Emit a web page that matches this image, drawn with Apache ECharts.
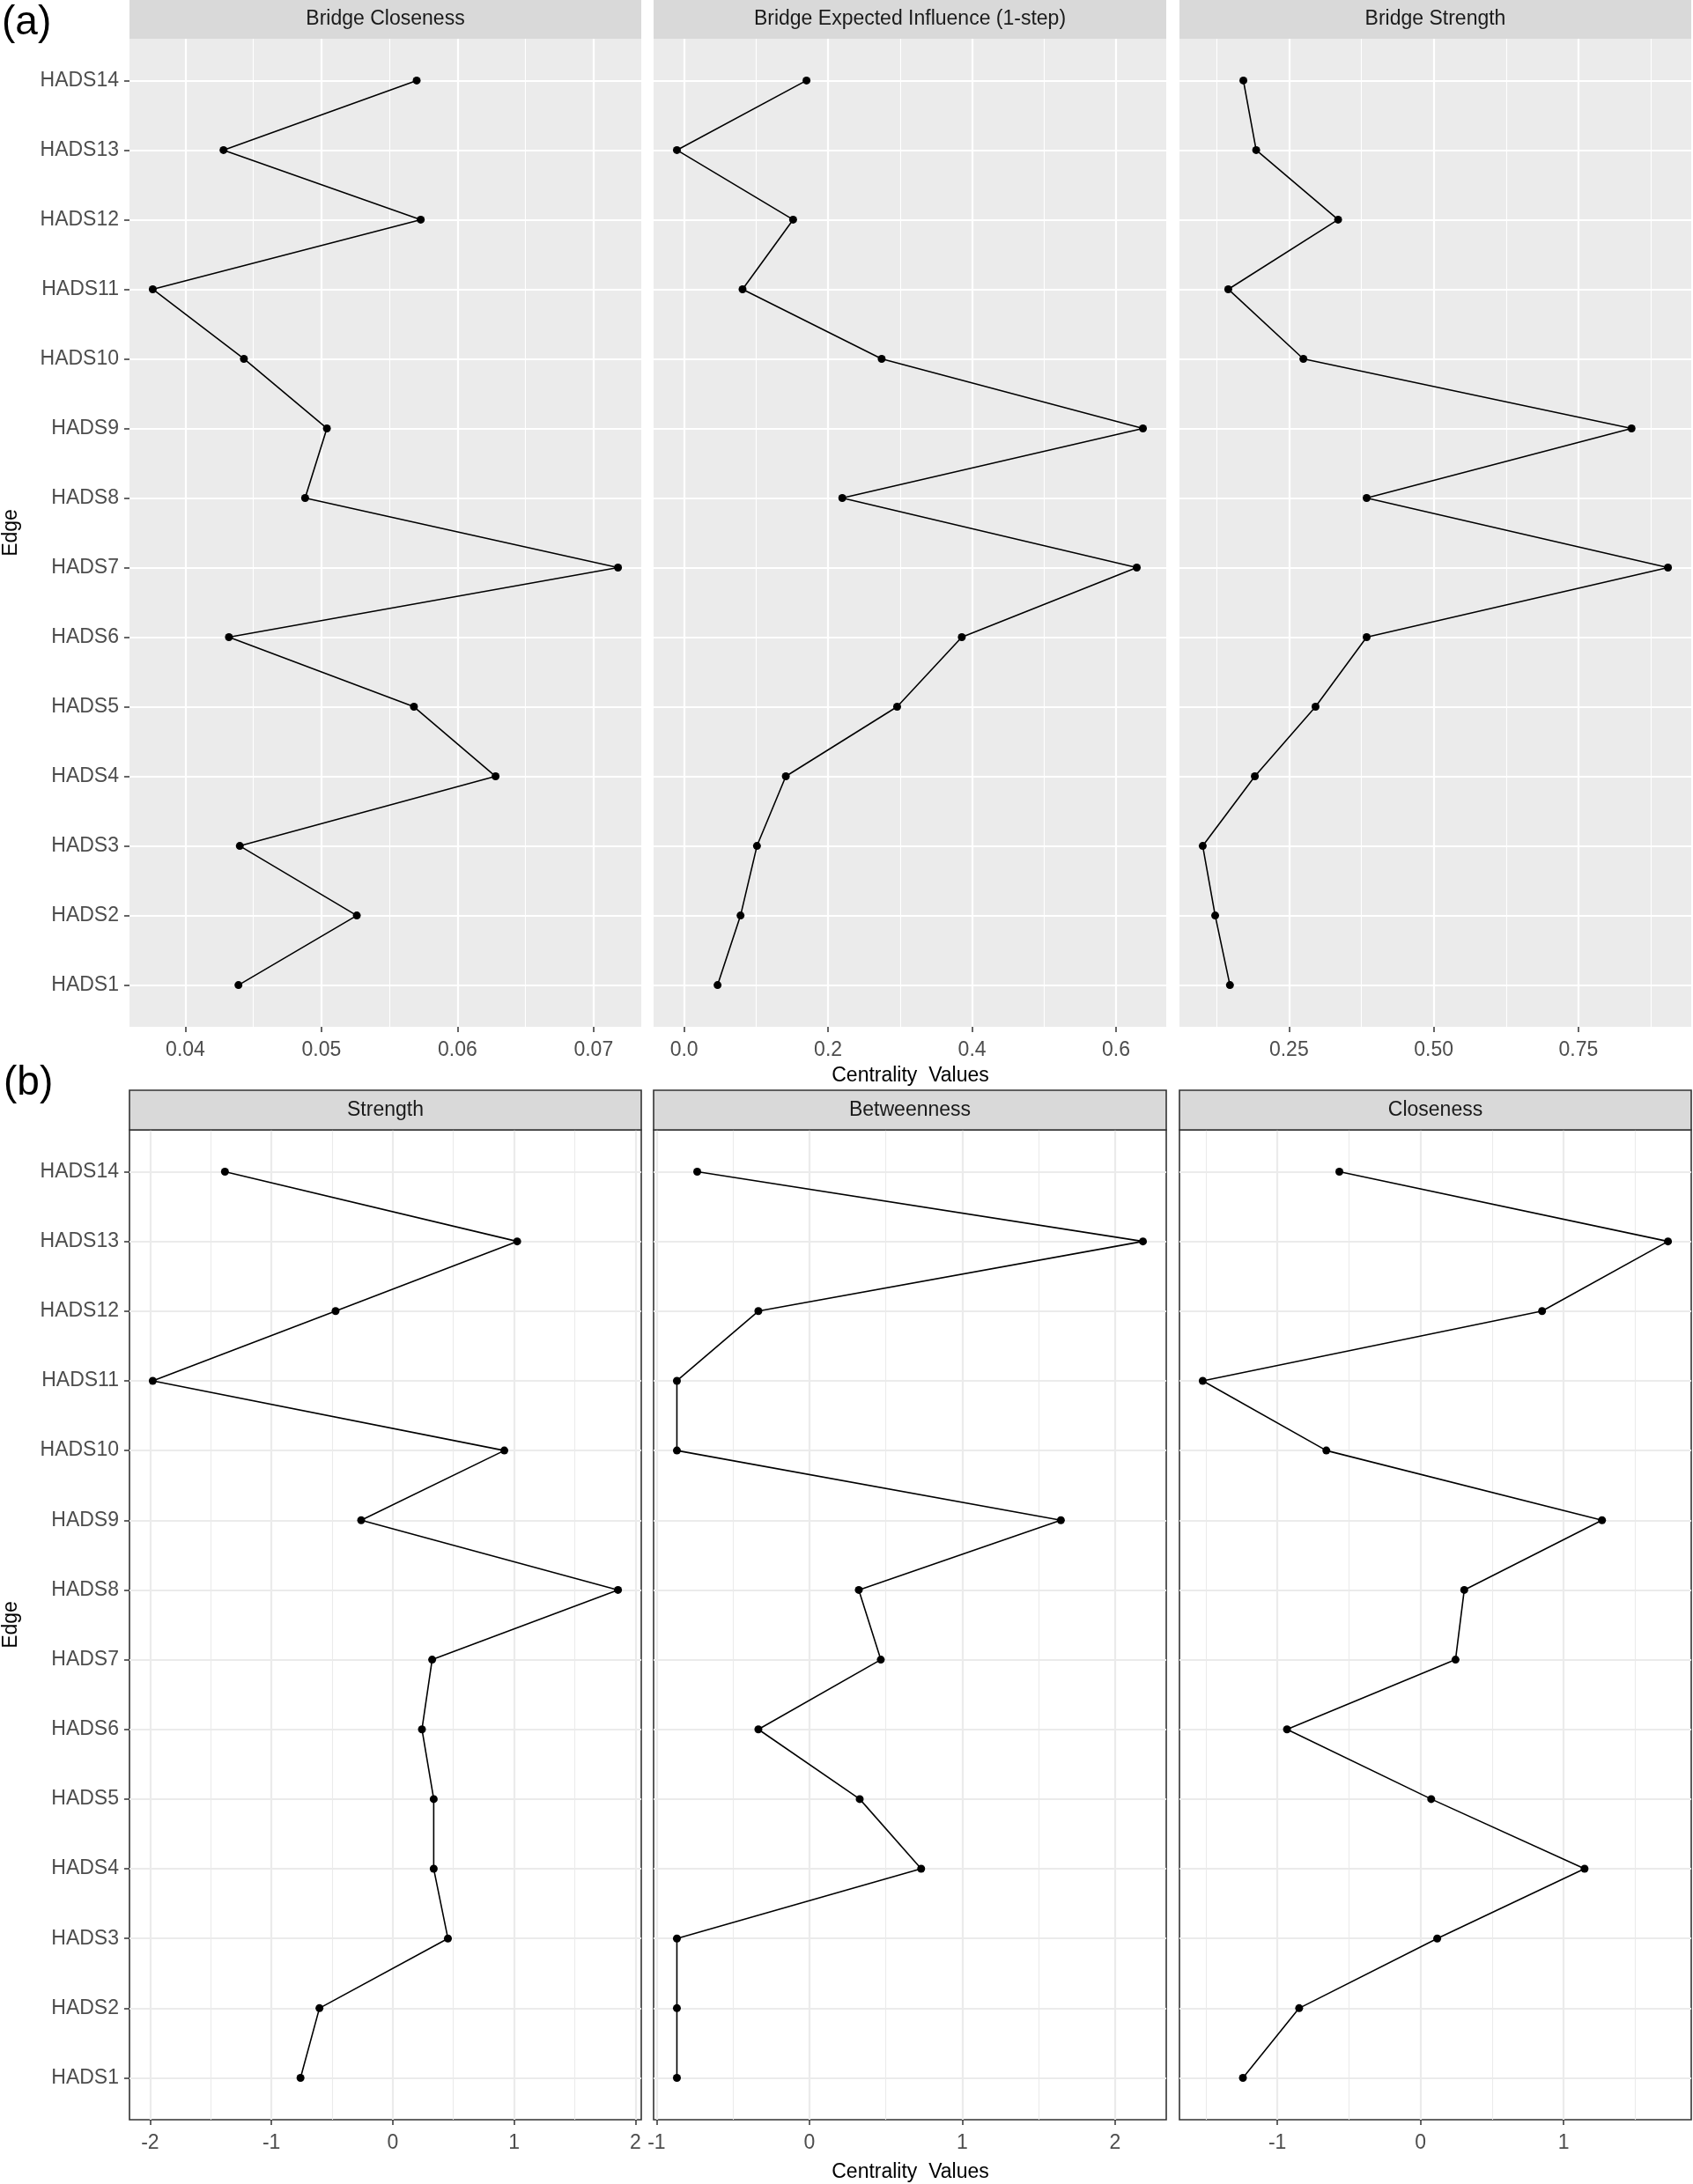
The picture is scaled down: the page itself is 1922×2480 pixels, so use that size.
<!DOCTYPE html>
<html><head><meta charset="utf-8">
<script src="https://cdn.jsdelivr.net/npm/echarts@6/dist/echarts.min.js"></script>
<style>html,body{margin:0;padding:0;background:#fff}#c{width:1922px;height:2480px}</style>
</head><body><div id="c"></div>
<script>
// ---------- data ----------
const categories = ['HADS1','HADS2','HADS3','HADS4','HADS5','HADS6','HADS7','HADS8','HADS9','HADS10','HADS11','HADS12','HADS13','HADS14'];

const bridgeCloseness = [0.0439, 0.0526, 0.0440, 0.0628, 0.0568, 0.0432, 0.0718, 0.0488, 0.0504, 0.0443, 0.0376, 0.0573, 0.0428, 0.0570];
const bridgeExpectedInfluence = [0.0465, 0.0784, 0.1012, 0.1413, 0.2959, 0.3857, 0.6287, 0.2197, 0.6373, 0.2744, 0.0812, 0.1514, -0.0100, 0.1700];
const bridgeStrength = [0.1481, 0.1226, 0.1011, 0.1911, 0.2959, 0.3842, 0.9046, 0.3842, 0.8417, 0.2749, 0.1452, 0.3349, 0.1934, 0.1713];

const strength = [-0.760, -0.604, 0.455, 0.338, 0.338, 0.241, 0.325, 1.857, -0.260, 0.920, -1.978, -0.471, 1.026, -1.383];
const betweenness = [-0.867, -0.867, -0.867, 0.731, 0.329, -0.334, 0.467, 0.323, 1.645, -0.867, -0.867, -0.334, 2.182, -0.734];
const closeness = [-1.241, -0.848, 0.117, 1.147, 0.075, -0.933, 0.245, 0.306, 1.269, -0.658, -1.522, 0.850, 1.730, -0.567];

const panelTitles = ['Bridge Closeness', 'Bridge Expected Influence (1-step)', 'Bridge Strength', 'Strength', 'Betweenness', 'Closeness'];

const ticksBC = [0.04, 0.05, 0.06, 0.07];
const labelsBC = ['0.04', '0.05', '0.06', '0.07'];
const minorBC = [0.045, 0.055, 0.065];
const ticksBEI = [0, 0.2, 0.4, 0.6];
const labelsBEI = ['0.0', '0.2', '0.4', '0.6'];
const minorBEI = [0.1, 0.3, 0.5];
const ticksBS = [0.25, 0.5, 0.75];
const labelsBS = ['0.25', '0.50', '0.75'];
const minorBS = [0.125, 0.375, 0.625, 0.875];
const ticksS = [-2, -1, 0, 1, 2];
const labelsS = ['-2', '-1', '0', '1', '2'];
const minorS = [-1.5, -0.5, 0.5, 1.5];
const ticksB = [-1, 0, 1, 2];
const labelsB = ['-1', '0', '1', '2'];
const minorB = [-0.5, 0.5, 1.5];
const ticksC = [-1, 0, 1];
const labelsC = ['-1', '0', '1'];
const minorC = [-1.5, -0.5, 0.5, 1.5];

const xAxisTitle = 'Centrality  Values';
const yAxisTitle = 'Edge';

// ---------- layout ----------
const FONT = '"Liberation Sans", Arial, sans-serif';
const colX = [[147, 728], [742, 1324], [1339, 1920]];
const rowY = [{stripTop: 0, top: 44, bottom: 1166}, {stripTop: 1238, top: 1283, bottom: 2407}];

const panels = [
  {vals: bridgeCloseness, ticks: ticksBC, labels: labelsBC, minor: minorBC},
  {vals: bridgeExpectedInfluence, ticks: ticksBEI, labels: labelsBEI, minor: minorBEI},
  {vals: bridgeStrength, ticks: ticksBS, labels: labelsBS, minor: minorBS},
  {vals: strength, ticks: ticksS, labels: labelsS, minor: minorS},
  {vals: betweenness, ticks: ticksB, labels: labelsB, minor: minorB},
  {vals: closeness, ticks: ticksC, labels: labelsC, minor: minorC}
];

function expand(arr) {
  const lo = Math.min(...arr), hi = Math.max(...arr), pad = (hi - lo) * 0.05;
  return [lo - pad, hi + pad];
}

const grids = [], xAxes = [], yAxes = [], series = [], graphics = [];
const yIdx = categories.map((c, i) => i + 1);

panels.forEach((p, i) => {
  const row = i < 3 ? 0 : 1, col = i % 3;
  const bw = row === 1;
  const [x0, x1] = colX[col];
  const R = rowY[row];
  grids.push({
    left: x0, top: R.top, width: x1 - x0, height: R.bottom - R.top,
    show: true, backgroundColor: bw ? '#FFFFFF' : '#EBEBEB',
    borderColor: '#333333', borderWidth: bw ? 1.6 : 0, containLabel: false
  });
  const ext = expand(p.vals);
  const gridCol = bw ? '#EBEBEB' : '#FFFFFF';
  xAxes.push({
    type: 'value', gridIndex: i, min: ext[0], max: ext[1], position: 'bottom',
    axisLine: {show: false, onZero: false},
    axisTick: {show: true, customValues: p.ticks, length: 6, lineStyle: {color: '#333333', width: 1.5}},
    axisLabel: {show: true, customValues: p.ticks, margin: 15, color: '#4D4D4D', fontSize: 23, fontFamily: FONT,
      formatter: v => { const k = p.ticks.findIndex(t => Math.abs(t - v) < 1e-9); return k >= 0 ? p.labels[k] : ''; }},
    splitLine: {show: true, lineStyle: {color: gridCol, width: 2.2}}
  });
  xAxes.push({
    type: 'value', gridIndex: i, min: ext[0], max: ext[1], position: 'bottom',
    axisLine: {show: false, onZero: false},
    axisTick: {show: false, customValues: p.minor},
    axisLabel: {show: false, customValues: p.minor},
    splitLine: {show: true, lineStyle: {color: gridCol, width: 1.1}}
  });
  yAxes.push({
    type: 'value', gridIndex: i, min: 1 - 0.6, max: categories.length + 0.6, position: 'left',
    axisLine: {show: false, onZero: false},
    axisTick: {show: col === 0, customValues: yIdx, length: 6, lineStyle: {color: '#333333', width: 1.5}},
    axisLabel: {show: col === 0, customValues: yIdx, margin: 12, color: '#4D4D4D', fontSize: 23, fontFamily: FONT,
      formatter: v => categories[Math.round(v) - 1] || ''},
    splitLine: {show: true, lineStyle: {color: gridCol, width: 2.2}}
  });
  series.push({
    type: 'line', xAxisIndex: 2 * i, yAxisIndex: i,
    data: p.vals.map((v, k) => [v, yIdx[k]]),
    symbol: 'circle', symbolSize: 9, showSymbol: true,
    lineStyle: {color: '#000000', width: 1.6},
    itemStyle: {color: '#000000'},
    clip: false, animation: false, silent: true
  });
  // strip
  graphics.push({
    type: 'rect', z: 10,
    shape: {x: x0, y: R.stripTop, width: x1 - x0, height: R.top - R.stripTop},
    style: {fill: '#D9D9D9', stroke: bw ? '#333333' : null, lineWidth: bw ? 1.6 : 0}
  });
  graphics.push({
    type: 'text', z: 11,
    x: (x0 + x1) / 2, y: (R.stripTop + R.top) / 2,
    style: {text: panelTitles[i], fill: '#1A1A1A', font: '23px ' + FONT, textAlign: 'center', textVerticalAlign: 'middle'}
  });
});

// panel tags and axis titles
graphics.push({type: 'text', z: 11, x: 2, y: 26, style: {text: '(a)', fill: '#000', font: '46px ' + FONT, textAlign: 'left', textVerticalAlign: 'middle'}});
graphics.push({type: 'text', z: 11, x: 4, y: 1230, style: {text: '(b)', fill: '#000', font: '46px ' + FONT, textAlign: 'left', textVerticalAlign: 'middle'}});
rowY.forEach((R, r) => {
  graphics.push({type: 'text', z: 11, x: 13, y: (R.top + R.bottom) / 2, rotation: Math.PI / 2,
    style: {text: yAxisTitle, fill: '#000', font: '23px ' + FONT, textAlign: 'center', textVerticalAlign: 'middle'}});
  graphics.push({type: 'text', z: 11, x: (colX[0][0] + colX[2][1]) / 2, y: R.bottom + (r === 0 ? 56 : 60),
    style: {text: xAxisTitle, fill: '#000', font: '23px ' + FONT, textAlign: 'center', textVerticalAlign: 'middle'}});
});

const chart = echarts.init(document.getElementById('c'), null, {renderer: 'canvas'});
chart.setOption({
  backgroundColor: '#FFFFFF',
  animation: false,
  grid: grids, xAxis: xAxes, yAxis: yAxes, series: series,
  graphic: {elements: graphics}
});
</script></body></html>
